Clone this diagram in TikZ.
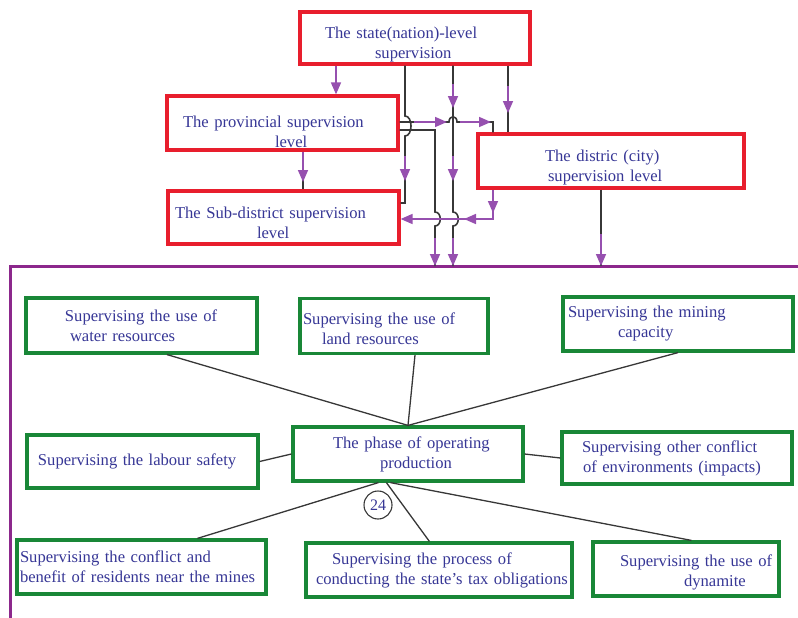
\documentclass[tikz,border=0pt]{standalone}
\usepackage{fontspec}
\setmainfont{Liberation Serif}
\usetikzlibrary{arrows.meta,calc}
\definecolor{boxred}{RGB}{232,30,45}
\definecolor{boxgreen}{RGB}{25,135,55}
\definecolor{txtblue}{RGB}{55,55,150}
\definecolor{arrpurple}{RGB}{150,80,175}
\definecolor{framepurple}{RGB}{140,40,140}
\definecolor{linegray}{RGB}{55,55,55}
\newcommand\txtdrop[1]{\rule{0pt}{#1}}
\begin{document}
\begin{tikzpicture}[x=1pt,y=-1pt,
 basebox/.style={draw, line width=3.2pt, fill=white, inner sep=0pt, align=left, text=txtblue, font=\fontsize{16.6}{20}\selectfont},
 rbox/.style={basebox, draw=boxred},
 gbox/.style={basebox, draw=boxgreen},
 conn/.style={draw=linegray, line width=1.6pt},
 parr/.style={draw=arrpurple, line width=1.6pt, -{Triangle[length=12pt,width=10pt]}},
 frameline/.style={draw=framepurple, line width=3pt},
 link/.style={draw=linegray, line width=1.3pt},
]
\useasboundingbox (0,0) rectangle (798,618);

% frame
\draw[frameline] (10,625) -- (10,266) -- (805,266);

% lanes and rows
\coordinate (P1) at (336,0);
\coordinate (P2) at (303,0);
\coordinate (L1) at (405,0);
\coordinate (L3) at (453,0);
\coordinate (L4) at (493,0);
\coordinate (L5) at (508,0);
\coordinate (L6) at (601,0);
\coordinate (H1) at (0,122);
\coordinate (H2) at (0,130);
\coordinate (H3) at (0,203);
\coordinate (H4) at (0,219);
\coordinate (f2) at (435,266);
\coordinate (f3) at (453,266);
\coordinate (f6) at (601,266);

% red boxes
\node[rbox, minimum width=230pt, text width=230pt, minimum height=52pt] (state) at (415,38)
 {\txtdrop{24pt}\hspace*{25pt}\mbox{The state(nation)-level}\\\hspace*{75pt}\mbox{supervision}};
\node[rbox, minimum width=231pt, text width=231pt, minimum height=54pt] (prov) at (282.5,123)
 {\txtdrop{29pt}\hspace*{16pt}\mbox{The provincial supervision}\\\hspace*{108pt}\mbox{level}};
\node[rbox, minimum width=231pt, text width=231pt, minimum height=53pt] (sub) at (283.5,217.5)
 {\txtdrop{22pt}\hspace*{7pt}\mbox{The Sub-district supervision}\\\hspace*{89pt}\mbox{level}};
\node[rbox, minimum width=266pt, text width=266pt, minimum height=54pt] (dist) at (611,161)
 {\txtdrop{24pt}\hspace*{67pt}\mbox{The distric (city)}\\\hspace*{70pt}\mbox{supervision level}};

% green boxes
\node[gbox, minimum width=231pt, text width=231pt, minimum height=55pt] (water) at (141.5,325.5)
 {\hspace*{39pt}\mbox{Supervising the use of}\\\hspace*{44pt}\mbox{water resources}};
\node[gbox, minimum width=188pt, text width=188pt, minimum height=55pt] (land) at (394,326)
 {\txtdrop{18pt}\hspace*{3pt}\mbox{Supervising the use of}\\\hspace*{22pt}\mbox{land resources}};
\node[gbox, minimum width=230pt, text width=230pt, minimum height=54pt] (mining) at (678,324)
 {\hspace*{5pt}\mbox{Supervising the mining}\\\hspace*{55pt}\mbox{capacity}};
\node[gbox, minimum width=231pt, text width=231pt, minimum height=53pt] (labour) at (142.5,461.5)
 {\hspace*{11pt}\mbox{Supervising the labour safety}};
\node[gbox, minimum width=230pt, text width=230pt, minimum height=54pt] (phase) at (408,454)
 {\hspace*{40pt}\mbox{The phase of operating}\\\hspace*{87pt}\mbox{production}};
\node[gbox, minimum width=230pt, text width=230pt, minimum height=52pt] (other) at (677,458)
 {\hspace*{20pt}\mbox{Supervising other conflict}\\\hspace*{21pt}\mbox{of environments (impacts)}};
\node[gbox, minimum width=249pt, text width=249pt, minimum height=54pt] (residents) at (141.5,567)
 {\hspace*{3pt}\mbox{Supervising the conflict and}\\\hspace*{3pt}\mbox{benefit of residents near the mines}};
\node[gbox, minimum width=266pt, text width=266pt, minimum height=54pt] (tax) at (439,570)
 {\hspace*{26pt}\mbox{Supervising the process of}\\\hspace*{10pt}\mbox{conducting the state's tax obligations}};
\node[gbox, minimum width=186pt, text width=186pt, minimum height=54pt] (dynamite) at (686,569)
 {\txtdrop{18pt}\hspace*{27pt}\mbox{Supervising the use of}\\\hspace*{91pt}\mbox{dynamite}};

\node[draw=linegray, circle, line width=1.1pt, minimum size=28pt, inner sep=0pt, text=txtblue,
 font=\fontsize{16}{18}\selectfont] (n24) at (378,505) {24};

% top connectors
\draw[parr] (state.south -| P1) -- (prov.north -| P1);

\draw[conn] (state.south -| L1) -- (405,116) .. controls (413,116) and (413,136) .. (405,136)
 -- (405,203) -- (sub.east |- H3);
\draw[parr] (405,156) -- (405,181);

\draw[conn] (state.south -| L3) -- (453,212) .. controls (460,212) and (460,226) .. (453,226) -- (f3);
\draw[parr] (453,84) -- (453,108);
\draw[parr] (453,156) -- (453,181);
\draw[parr] (453,238) -- (f3);

\draw[conn] (state.south -| L5) -- (dist.north -| L5);
\draw[parr] (508,86) -- (508,113);

\draw[conn] (prov.east |- H1) -- (449,122) .. controls (449,115) and (457,115) .. (457,122)
 -- (493,122) -- (dist.north -| L4);
\draw[parr] (414,122) -- (447,122);
\draw[parr] (460,122) -- (491,122);

\draw[conn] (prov.east |- H2) -- (435,130) -- (435,212) .. controls (442,212) and (442,226) .. (435,226) -- (f2);
\draw[parr] (435,238) -- (f2);

\draw[parr] (dist.south -| L4) -- (493,219) -- (sub.east |- H4);
\draw[parr] (493,195) -- (493,213);
\draw[parr] (488,219) -- (464,219);

\draw[conn] (dist.south -| L6) -- (f6);
\draw[parr] (601,234) -- (f6);

\draw[conn] (prov.south -| P2) -- (sub.north -| P2);
\draw[parr] (prov.south -| P2) -- (303,182);

% bottom connectors
\coordinate (wb) at (167,0);
\coordinate (lb) at (415,0);
\draw[link] (water.south -| wb) -- (phase.north);
\draw[link] (land.south -| lb) -- (phase.north);
\draw[link] (mining.south) -- (phase.north);
\draw[link] (labour.east) -- (phase.west);
\draw[link] (phase.east) -- (other.west);
\draw[link] ($(phase.south west)+(87,0)$) -- ($(residents.north west)+(182,0)$);
\draw[link] ($(phase.south west)+(95,0)$) -- ($(tax.north west)+(125,0)$);
\draw[link] ($(phase.south west)+(99,0)$) -- ($(dynamite.north west)+(100,0)$);
\end{tikzpicture}
\end{document}
